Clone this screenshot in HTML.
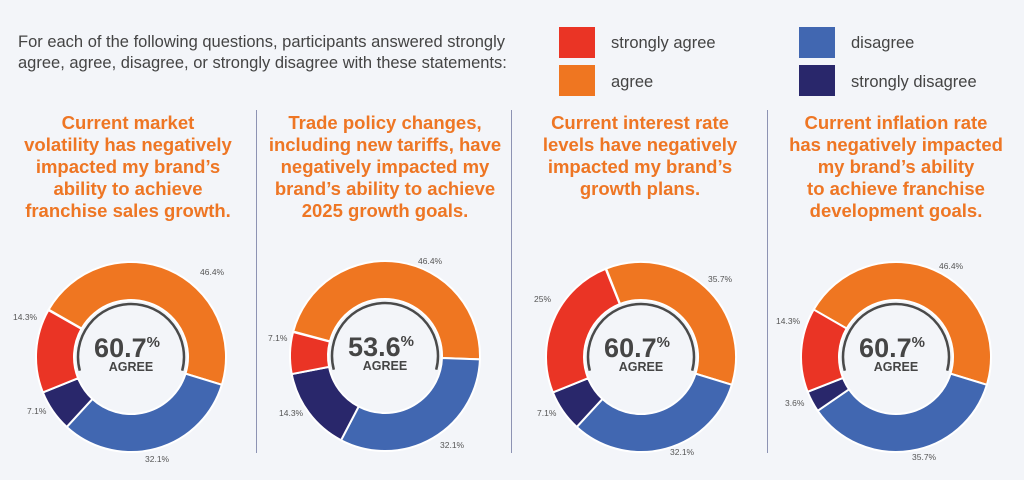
<!DOCTYPE html>
<html><head><meta charset="utf-8"><style>
body{margin:0;width:1024px;height:480px;background:#f3f5f9;font-family:"Liberation Sans",sans-serif;overflow:hidden;position:relative}
.hd{position:absolute;left:18px;top:32px;font-size:16.5px;line-height:21px;color:#444}
.sq{position:absolute;width:36px;height:31px}
.lg{position:absolute;font-size:16.5px;color:#444}
.t{position:absolute;top:112px;width:250px;text-align:center;color:#ee7624;font-weight:bold;font-size:18.5px;line-height:22px}
.dv{position:absolute;top:110px;height:343px;width:1px;background:#8d93b3}
</style></head><body>
<div class="hd">For each of the following questions, participants answered strongly<br>agree, agree, disagree, or strongly disagree with these statements:</div>
<div class="sq" style="left:559px;top:27px;background:#ea3425"></div>
<div class="sq" style="left:559px;top:65px;background:#ef7621"></div>
<div class="sq" style="left:799px;top:27px;background:#4167b1"></div>
<div class="sq" style="left:799px;top:65px;background:#29276b"></div>
<div class="lg" style="left:611px;top:34px">strongly agree</div>
<div class="lg" style="left:611px;top:73px">agree</div>
<div class="lg" style="left:851px;top:34px">disagree</div>
<div class="lg" style="left:851px;top:73px">strongly disagree</div>
<div class="dv" style="left:256px"></div><div class="dv" style="left:511px"></div><div class="dv" style="left:767px"></div>
<div class="t" style="left:3px">Current market<br>volatility has negatively<br>impacted my brand’s<br>ability to achieve<br>franchise sales growth.</div>
<div class="t" style="left:260px">Trade policy changes,<br>including new tariffs, have<br>negatively impacted my<br>brand’s ability to achieve<br>2025 growth goals.</div>
<div class="t" style="left:515px">Current interest rate<br>levels have negatively<br>impacted my brand’s<br>growth plans.</div>
<div class="t" style="left:771px">Current inflation rate<br>has negatively impacted<br>my brand’s ability<br>to achieve franchise<br>development goals.</div>
<svg id="s" width="1024" height="480" style="position:absolute;left:0;top:0" font-family="Liberation Sans, sans-serif"></svg>
<script>
var C=['#ef7621','#4167b1','#29276b','#ea3425'];
var charts=[
 {cx:131,cy:357,end:107,v:[46.4,32.1,7.1,14.3],big:'60.7',lab:[[200,275,'46.4%'],[13,320,'14.3%'],[27,414,'7.1%'],[145,462,'32.1%']]},
 {cx:385,cy:356,end:92,v:[46.4,32.1,14.3,7.1],big:'53.6',lab:[[418,264,'46.4%'],[268,341,'7.1%'],[279,416,'14.3%'],[440,448,'32.1%']]},
 {cx:641,cy:357,end:107,v:[35.7,32.1,7.1,25],big:'60.7',lab:[[708,282,'35.7%'],[534,302,'25%'],[537,416,'7.1%'],[670,455,'32.1%']]},
 {cx:896,cy:357,end:107,v:[46.4,35.7,3.6,14.3],big:'60.7',lab:[[939,269,'46.4%'],[776,324,'14.3%'],[785,406,'3.6%'],[912,460,'35.7%']]}
];
var R=95,r=57,h='';
function pt(cx,cy,rad,a){a=(a-90)*Math.PI/180;return (cx+rad*Math.cos(a)).toFixed(2)+' '+(cy+rad*Math.sin(a)).toFixed(2);}
charts.forEach(function(c){
 var a=c.end-c.v[0]*3.6;
 c.v.forEach(function(v,i){var b=a+v*3.6,lg=(b-a)>180?1:0;
  h+='<path d="M'+pt(c.cx,c.cy,R,a)+' A'+R+' '+R+' 0 '+lg+' 1 '+pt(c.cx,c.cy,R,b)+' L'+pt(c.cx,c.cy,r,b)+' A'+r+' '+r+' 0 '+lg+' 0 '+pt(c.cx,c.cy,r,a)+'Z" fill="'+C[i]+'" stroke="#fff" stroke-width="2"/>';a=b;});
 h+='<path d="M'+pt(c.cx,c.cy,53,255)+' A53 53 0 1 1 '+pt(c.cx,c.cy,53,105)+'" fill="none" stroke="#4a4a4a" stroke-width="2.5"/>';
 h+='<text x="'+(c.cx-4)+'" y="'+(c.cy)+'" text-anchor="middle" font-size="27" font-weight="bold" fill="#454545">'+c.big+'<tspan font-size="15" dy="-10">%</tspan></text>';
 h+='<text x="'+c.cx+'" y="'+(c.cy+14)+'" text-anchor="middle" font-size="12.5" font-weight="bold" fill="#454545">AGREE</text>';
 c.lab.forEach(function(l){h+='<text x="'+l[0]+'" y="'+l[1]+'" font-size="8.5" fill="#555">'+l[2]+'</text>';});
});
document.getElementById('s').innerHTML=h;
</script>
</body></html>
